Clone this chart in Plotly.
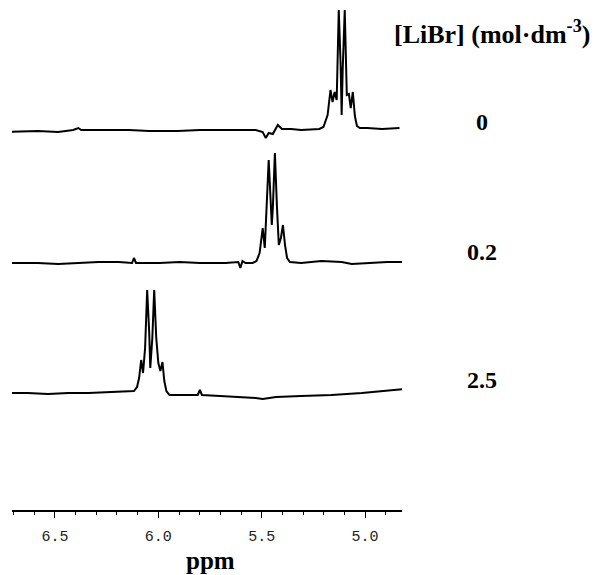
import plotly.graph_objects as go

# 1H NMR spectra at three LiBr concentrations (ppm, intensity above own baseline)
conc_labels = ["0", "0.2", "2.5"]

ppm_0 = [6.730, 6.583, 6.485, 6.412, 6.387, 6.373, 6.289, 6.142, 6.044, 5.907,
         5.799, 5.652, 5.529, 5.495, 5.480, 5.466, 5.446, 5.422, 5.402, 5.358,
         5.309, 5.221, 5.201, 5.181, 5.167, 5.157, 5.147, 5.137, 5.127, 5.118,
         5.113, 5.108, 5.098, 5.088, 5.078, 5.069, 5.059, 5.049, 5.039, 5.025,
         4.990, 4.917, 4.833]
int_0 = [-2, -1, -2, 0, 2, 0, 0, 0, -1, -1,
         0, 0, 0, -2, -8, -3, -4, 5, 1, 1,
         0, 1, 3, 15, 40, 28, 38, 30, 120, 65,
         15, 60, 120, 35, 36, 22, 38, 14, 4, 2,
         2, 1, 2]

ppm_02 = [6.730, 6.583, 6.485, 6.387, 6.289, 6.191, 6.127, 6.118, 6.108, 5.995,
          5.897, 5.799, 5.676, 5.613, 5.603, 5.593, 5.578, 5.544, 5.525, 5.510,
          5.495, 5.485, 5.475, 5.466, 5.456, 5.451, 5.446, 5.436, 5.426, 5.417,
          5.407, 5.397, 5.387, 5.377, 5.363, 5.309, 5.211, 5.113, 5.064, 4.966,
          4.892, 4.809]
int_02 = [0, 0, -1, 0, 1, 1, 0, 5, 0, 0,
          1, 0, 0, 1, -5, 2, 0, 0, 2, 10,
          35, 15, 55, 103, 60, 38, 55, 110, 56, 18,
          25, 38, 18, 5, 1, 0, 2, 1, -1, 0,
          1, 1]

ppm_25 = [6.730, 6.632, 6.534, 6.436, 6.338, 6.240, 6.167, 6.118, 6.103, 6.093,
          6.083, 6.074, 6.064, 6.054, 6.044, 6.039, 6.029, 6.020, 6.010, 6.000,
          5.990, 5.980, 5.971, 5.961, 5.946, 5.873, 5.809, 5.799, 5.789, 5.701,
          5.603, 5.529, 5.495, 5.431, 5.309, 5.162, 5.015, 4.917, 4.843, 4.804]
int_25 = [0, 0, -1, 0, 0, 1, 1, 2, 6, 15,
          33, 20, 45, 103, 60, 25, 55, 103, 55, 30,
          22, 31, 12, 2, -2, -2, -2, 3, -2, -3,
          -4, -5, -6, -4, -3, -2, 0, 2, 3, 4]

tick_vals = [6.5, 6.0, 5.5, 5.0]
tick_text = ["6.5", "6.0", "5.5", "5.0"]

# vertical stacking of the spectra (baseline heights in axis units)
offsets = [380, 247, 117]
label_y = [388, 258, 130]

fig = go.Figure()
for ppm, inten, off in zip([ppm_0, ppm_02, ppm_25], [int_0, int_02, int_25], offsets):
    fig.add_trace(go.Scatter(
        x=ppm,
        y=[v + off for v in inten],
        mode="lines",
        line=dict(color="black", width=2),
        hoverinfo="skip",
        showlegend=False,
    ))

serif = "Liberation Serif"

fig.add_annotation(text="<b>[LiBr] (mol·dm<sup>-3</sup>)</b>", xref="paper", yref="y",
                   x=1.23, y=478, xanchor="center", yanchor="middle", showarrow=False,
                   font=dict(family=serif, size=26, color="black"))
for txt, yy in zip(conc_labels, label_y):
    fig.add_annotation(text=f"<b>{txt}</b>", xref="paper", yref="y",
                       x=1.205, y=yy, xanchor="center", yanchor="middle", showarrow=False,
                       font=dict(family=serif, size=24, color="black"))
fig.add_annotation(text="<b>ppm</b>", xref="paper", yref="paper",
                   x=0.51, y=-0.100, xanchor="center", yanchor="middle", showarrow=False,
                   font=dict(family=serif, size=25, color="black"))

# page body adds 8 px, so the figure is 8 px smaller each way
fig.update_layout(
    width=590, height=567,
    margin=dict(l=4, r=196, t=0, b=65),
    paper_bgcolor="white", plot_bgcolor="white",
    xaxis=dict(
        range=[6.708, 4.821],
        tickvals=tick_vals, ticktext=tick_text,
        ticks="outside", ticklen=6, tickwidth=1.2, tickcolor="black",
        ticklabelstandoff=5,
        minor=dict(dtick=0.1, ticks="outside", ticklen=3, tickwidth=1.2,
                   tickcolor="black", tick0=5.0),
        showline=True, linecolor="black", linewidth=1.5,
        showgrid=False, zeroline=False,
        tickfont=dict(family="Liberation Mono", size=15, color="#222"),
    ),
    yaxis=dict(range=[0, 502], visible=False, showgrid=False, zeroline=False),
)

fig.write_html("out.html")
